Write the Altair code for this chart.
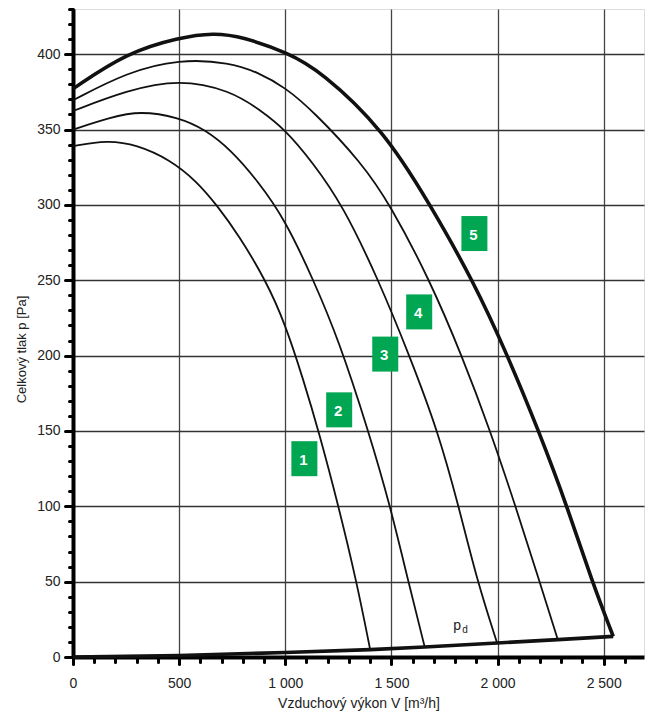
import altair as alt
import pandas as pd

# ---- data ----
c1_V = [0, 160, 300, 457, 580, 677, 780, 908, 1000, 1086, 1157, 1251, 1336, 1400]
c1_p = [339, 343, 340, 330, 316, 300, 280, 250, 221, 183.6, 150, 100, 50, 4.9]

c2_V = [0, 174, 316, 500, 622, 740, 870, 1000, 1133, 1250, 1392, 1495, 1578, 1657]
c2_p = [350, 358, 362.5, 358, 350, 337, 316, 290, 250, 211, 150, 100, 51, 6.6]

c3_V = [0, 253, 500, 740, 882, 1000, 1130, 1270, 1440, 1585, 1719, 1817, 1905, 1998]
c3_p = [362.3, 376, 383.5, 376, 363, 350, 328, 300, 250, 200, 150, 100, 50, 9.3]

c4_V = [0, 253, 500, 740, 870, 1000, 1133, 1360, 1495, 1681, 1832, 1966, 2085, 2198, 2284]
c4_p = [369.4, 388, 396.8, 394.5, 388, 378, 362, 328, 300, 250, 200, 150, 100, 50, 11.5]

c5_V = [0, 253, 500, 662, 800, 1012, 1165, 1463, 1683, 1884, 2048, 2194, 2328, 2445, 2545]
c5_p = [377, 401, 411, 414.2, 411.5, 401, 389, 350, 300, 250, 200, 150, 100, 50, 13.7]

pd_V = [0, 500, 1000, 1400, 1657, 1998, 2284, 2545]
pd_p = [0, 1, 3, 4.9, 6.6, 9.3, 11.5, 13.7]

label_text = ["1", "2", "3", "4", "5"]
label_V = [1090, 1254, 1471, 1631, 1891]
label_p = [131.6, 164, 201, 229, 281]

y_ticks = list(range(0, 431, 10))
x_ticks = list(range(0, 2601, 100))

FONT = "Liberation Sans"
GREEN = "#00a651"

def mk(name, V, p):
    return pd.DataFrame({"V": V, "p": p, "curve": name})

thin_df = pd.concat([mk("1", c1_V, c1_p), mk("2", c2_V, c2_p),
                     mk("3", c3_V, c3_p), mk("4", c4_V, c4_p)])
c5_df = mk("5", c5_V, c5_p)
pdl_df = mk("pd", pd_V, pd_p)
lab_df = pd.DataFrame({"V": label_V, "p": label_p, "label": label_text})
pdt_df = pd.DataFrame({"V": [1810], "p": [17.9], "label": ["p"]})
pds_df = pd.DataFrame({"V": [1847], "p": [15.7], "label": ["d"]})

x_enc = alt.X(
    "V:Q",
    scale=alt.Scale(domain=[0, 2690], nice=False, zero=False),
    axis=alt.Axis(
        values=x_ticks,
        title="Vzduchový výkon V [m³/h]",
        titleFont=FONT, titleFontSize=14, titleFontWeight="normal",
        titleColor="#222", titlePadding=6,
        labelFont=FONT, labelFontSize=14, labelColor="#222",
        labelPadding=12, labelFlush=False, labelOverlap=False,
        labelExpr="datum.value % 500 === 0 ? (datum.value >= 1000 ? floor(datum.value/1000) + ' ' + (datum.value % 1000 === 0 ? '000' : '500') : datum.value + '') : ''",
        domainColor="black", domainWidth=4,
        tickColor="black", tickWidth=3, tickCap="round",
        tickSize={"condition": {"test": "datum.value % 500 === 0", "value": 7}, "value": 5},
        grid=True, gridColor="#444", gridWidth=1.3,
        gridOpacity={"condition": {"test": "datum.value % 500 === 0 && datum.value > 0", "value": 1}, "value": 0},
    ),
)

y_enc = alt.Y(
    "p:Q",
    scale=alt.Scale(domain=[0, 430], nice=False, zero=False),
    axis=alt.Axis(
        values=y_ticks,
        title="Celkový tlak p [Pa]",
        titleFont=FONT, titleFontSize=13, titleFontWeight="normal",
        titleColor="#222", titleX=-45, titleY=340,
        labelFont=FONT, labelFontSize=14, labelColor="#222",
        labelPadding=5, labelOverlap=False, labelFlush=False,
        labelExpr="datum.value % 50 === 0 ? datum.label : ''",
        domainColor="black", domainWidth=4,
        tickColor="black", tickWidth=3, tickCap="round",
        tickSize={"condition": {"test": "datum.value % 50 === 0", "value": 8}, "value": 4},
        grid=True, gridColor="#333", gridWidth=1.3,
        gridOpacity={"condition": {"test": "datum.value % 50 === 0 && datum.value > 0", "value": 1}, "value": 0},
    ),
)

thin = alt.Chart(thin_df).mark_line(color="#111", strokeWidth=1.8, interpolate="basis").encode(
    x=x_enc, y=y_enc, detail="curve:N")
thick5 = alt.Chart(c5_df).mark_line(color="#111", strokeWidth=3.6, interpolate="basis").encode(
    x=x_enc, y=y_enc)
pdline = alt.Chart(pdl_df).mark_line(color="#111", strokeWidth=3.6, interpolate="linear").encode(
    x=x_enc, y=y_enc)

box_shape = "M-0.743,-1 L0.743,-1 L0.743,1 L-0.743,1 Z"
boxes = alt.Chart(lab_df).mark_point(shape=box_shape, size=1225, filled=True,
                                     color=GREEN, opacity=1, strokeWidth=0).encode(x=x_enc, y=y_enc)
btxt = alt.Chart(lab_df).mark_text(color="white", font=FONT, fontSize=15, fontWeight="bold",
                                   baseline="middle", align="center", dx=-1, dy=1).encode(
    x=x_enc, y=y_enc, text="label:N")

pt = alt.Chart(pdt_df).mark_text(color="#222", font=FONT, fontSize=14, baseline="alphabetic",
                                 align="center").encode(x=x_enc, y=y_enc, text="label:N")
ps = alt.Chart(pds_df).mark_text(color="#222", font=FONT, fontSize=10, baseline="alphabetic",
                                 align="center").encode(x=x_enc, y=y_enc, text="label:N")

chart = alt.layer(thin, thick5, pdline, boxes, btxt, pt, ps).properties(
    width=571, height=648,
    autosize=alt.AutoSizeParams(type="none"),
    padding={"left": 73, "top": 9, "right": 1, "bottom": 59},
).configure_view(stroke="#c3c7cb", strokeWidth=2).configure(background="white")

chart.save("out.html", embed_options={"renderer": "svg", "actions": False})
